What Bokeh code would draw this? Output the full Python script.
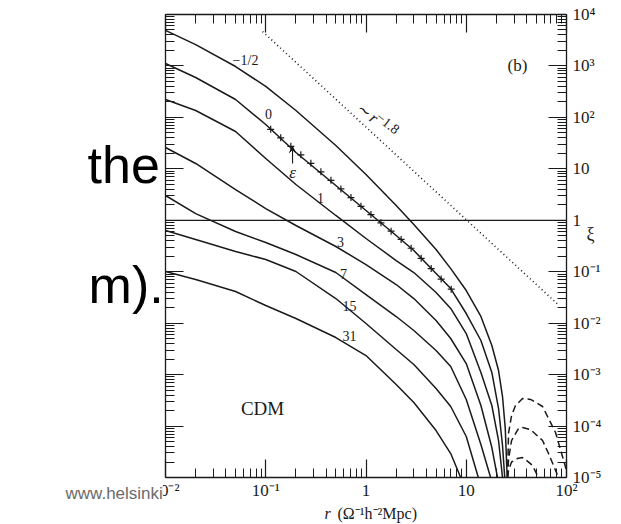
from bokeh.plotting import figure
from bokeh.models import (Range1d, LogAxis, LogScale, FixedTicker, CustomJSTickFormatter,
                          Label, Arrow, VeeHead)
from bokeh.embed import file_html
from bokeh.resources import INLINE

# ---------------- data ----------------
r_m05 = [0.01, 0.02, 0.05, 0.1, 0.2, 0.5, 1, 2, 3, 5, 7, 10, 14, 18, 21, 23, 24.5, 25.6]
xi_m05 = [4900, 2600, 975, 400, 136, 28.4, 7.76, 1.94, 0.827, 0.270, 0.115, 0.0431, 0.0135,
          0.00367, 0.0012, 3.75e-4, 8.95e-5, 1e-5]

r_0 = [0.01, 0.02, 0.05, 0.1, 0.2, 0.5, 1, 2, 3, 5, 7, 10, 14, 18, 21, 23, 24.2]
xi_0 = [1115, 596, 223, 72.7, 20.8, 4.74, 1.55, 0.506, 0.258, 0.0923, 0.0471, 0.0154, 0.0046,
        0.0011, 2.19e-4, 4.18e-5, 1e-5]

r_1 = [0.01, 0.02, 0.05, 0.1, 0.2, 0.5, 1, 2, 3, 5, 7, 10, 14, 18, 21, 23.0]
xi_1 = [223, 136, 53.2, 15.9, 4.96, 1.24, 0.442, 0.165, 0.0965, 0.0394, 0.0193, 0.00629, 0.0011,
        2.51e-4, 5.23e-5, 1e-5]

r_3 = [0.01, 0.02, 0.05, 0.1, 0.2, 0.5, 1, 2, 3, 5, 7, 10, 14, 18, 20.5]
xi_3 = [26.0, 12.7, 3.96, 1.69, 0.791, 0.309, 0.138, 0.0564, 0.0301, 0.01125, 0.00503, 0.00164,
        2.51e-4, 3.82e-5, 1e-5]

r_7 = [0.01, 0.02, 0.05, 0.1, 0.2, 0.5, 1, 2, 3, 5, 7, 10, 14, 17.5]
xi_7 = [3.03, 1.35, 0.605, 0.37, 0.216, 0.0965, 0.036, 0.01346, 0.00719, 0.00294, 0.001436,
        3.28e-4, 4.37e-5, 1e-5]

r_15 = [0.01, 0.02, 0.05, 0.1, 0.2, 0.5, 1, 2, 3, 5, 7, 10, 13.2]
xi_15 = [0.632, 0.423, 0.247, 0.173, 0.101, 0.0301, 0.00984, 0.00307, 0.00157, 5.36e-4, 2.40e-4,
         6.26e-5, 1e-5]

r_31 = [0.01, 0.02, 0.05, 0.1, 0.2, 0.5, 1, 2, 3, 5, 7, 8.8]
xi_31 = [0.101, 0.0705, 0.0412, 0.022, 0.0123, 0.00526, 0.00235, 6.41e-4, 2.86e-4, 8.18e-5,
         2.92e-5, 1e-5]

# negative part of xi (|xi|), dashed
r_neg_a = [25.8, 26.4, 28.3, 31.0, 36.4, 43.8, 57.7, 77.7, 91.2, 100]
xi_neg_a = [1e-5, 7.2e-5, 1.6e-4, 2.5e-4, 3.43e-4, 3.3e-4, 2.4e-4, 7.5e-5, 2.56e-5, 1.37e-5]
r_neg_b = [25.8, 26.4, 28.3, 33.2, 36.4, 43.8, 57.7, 66.2, 83.2]
xi_neg_b = [1e-5, 2.23e-5, 5.23e-5, 8.95e-5, 9.36e-5, 8.56e-5, 5.23e-5, 2.92e-5, 1e-5]
r_neg_c = [25.8, 26.4, 28.3, 32.4, 36.4, 39.0, 45.8, 52.6]
xi_neg_c = [1e-5, 1.37e-5, 2.0e-5, 2.34e-5, 2.44e-5, 2.23e-5, 1.71e-5, 1e-5]

# observed correlation function (epsilon points)
eps_r = [0.112, 0.141, 0.178, 0.224, 0.282, 0.355, 0.447, 0.562, 0.708, 0.891, 1.12, 1.41,
         1.78, 2.24, 2.82, 3.55, 4.47, 5.62, 7.08]
eps_xi = [58.6, 40.1, 27.4, 18.7, 12.8, 8.75, 5.98, 4.06, 2.76, 1.87, 1.29, 0.893, 0.615,
          0.425, 0.286, 0.182, 0.115, 0.0721, 0.0457]

# ~ r^-1.8 reference line
pl_r = [0.093, 83.0]
pl_xi = [4660, 0.0227]

curve_names = ["\u22121/2", "0", "1", "3", "7", "15", "31"]
x_ticks = [0.01, 0.1, 1, 10, 100]
y_ticks = [1e-5, 1e-4, 1e-3, 1e-2, 1e-1, 1, 10, 100, 1e3, 1e4]

SERIF = "Liberation Serif"
SANS = "Liberation Sans"
INK = "#1a1a1a"

X0, X1 = x_ticks[0], x_ticks[-1]
Y0, Y1 = y_ticks[0], y_ticks[-1]

# the plotting frame covers the whole page; the axes are pinned at the box edges
p = figure(width=621, height=524, x_axis_type="log", y_axis_type="log",
           x_axis_location=None, y_axis_location=None,
           x_range=Range1d(10 ** -3.6459, 10 ** 2.5486),
           y_range=Range1d(10 ** -5.9136, 10 ** 4.2721),
           output_backend="svg", toolbar_location=None,
           min_border=0, min_border_left=0, min_border_right=0,
           min_border_top=0, min_border_bottom=0)
p.x_scale = LogScale()
p.y_scale = LogScale()
p.grid.visible = False
p.outline_line_color = None
p.background_fill_color = "white"
p.border_fill_color = "white"

minor_x = [m * 10.0 ** e for e in range(-2, 2) for m in range(2, 10)]
minor_y = [m * 10.0 ** e for e in range(-5, 4) for m in range(2, 10)]

fmt_code = """
const e = Math.round(Math.log10(tick));
if (e == 0) return "1";
if (e == 1) return "10";
const sup = {"-": "\u207b", "0": "\u2070", "1": "\u00b9", "2": "\u00b2", "3": "\u00b3",
             "4": "\u2074", "5": "\u2075", "6": "\u2076", "7": "\u2077", "8": "\u2078", "9": "\u2079"};
return "10" + String(e).split("").map(c => sup[c]).join("");
"""

def make_axis(ticks, minors, show_labels, loc, bounds):
    ax = LogAxis(fixed_location=loc, bounds=bounds)
    ax.ticker = FixedTicker(ticks=ticks, minor_ticks=minors)
    ax.major_tick_in = 18
    ax.major_tick_out = 0
    ax.minor_tick_in = 9
    ax.minor_tick_out = 0
    ax.axis_line_color = INK
    ax.axis_line_width = 1.3
    ax.major_tick_line_color = INK
    ax.minor_tick_line_color = INK
    ax.major_tick_line_width = 1.2
    ax.minor_tick_line_width = 1.0
    if show_labels:
        ax.formatter = CustomJSTickFormatter(code=fmt_code)
        ax.major_label_text_font = SERIF
        ax.major_label_text_font_size = "17px"
        ax.major_label_text_color = INK
    else:
        ax.formatter = CustomJSTickFormatter(code="return '';")
    return ax

bottom = make_axis(x_ticks, minor_x, True, Y0, (X0, X1))
bottom.major_label_standoff = 3
p.add_layout(bottom, "below")
top = make_axis(x_ticks, minor_x, False, Y1, (X0, X1))
p.add_layout(top, "above")
left = make_axis(y_ticks, minor_y, False, X0, (Y0, Y1))
p.add_layout(left, "left")
right = make_axis(y_ticks, minor_y, True, X1, (Y0, Y1))
right.major_label_standoff = 6
p.add_layout(right, "right")

# xi = 1 line
p.line([X0, X1], [1, 1], line_color=INK, line_width=1.3)

# model curves
for rr, xx in [(r_m05, xi_m05), (r_0, xi_0), (r_1, xi_1), (r_3, xi_3),
               (r_7, xi_7), (r_15, xi_15), (r_31, xi_31)]:
    p.line(rr, xx, line_color=INK, line_width=1.5)

for rr, xx in [(r_neg_a, xi_neg_a), (r_neg_b, xi_neg_b), (r_neg_c, xi_neg_c)]:
    p.line(rr, xx, line_color=INK, line_width=1.5, line_dash="7 4")

p.line(pl_r, pl_xi, line_color=INK, line_width=1.6, line_dash="1 3")

p.scatter(eps_r, eps_xi, marker="cross", size=7, line_color=INK, line_width=1.2)

def lab(x, y, text, size, font=SERIF, style="normal", align="center", baseline="middle",
        angle=0, color=INK, bg=None):
    l = Label(x=x, y=y, text=text, text_font=font, text_font_size=size, text_font_style=style,
              text_align=align, text_baseline=baseline, angle=angle, text_color=color)
    if bg is not None:
        l.background_fill_color = bg
    p.add_layout(l)

# curve labels
lab(0.0628, 1276, curve_names[0], "14px")
lab(0.1064, 119, curve_names[1], "14px")
lab(0.3516, 2.77, curve_names[2], "14px")
lab(0.557, 0.386, curve_names[3], "14px")
lab(0.597, 0.0923, curve_names[4], "14px")
lab(0.684, 0.0220, curve_names[5], "14px")
lab(0.684, 0.00575, curve_names[6], "14px")

# epsilon and arrow
lab(0.185, 8.48, "\u03b5", "17px", style="italic")
p.add_layout(Arrow(end=VeeHead(size=6, line_color=INK, fill_color=INK, line_width=1),
                   x_start=0.185, y_start=12.7, x_end=0.185, y_end=27.2,
                   line_color=INK, line_width=1.1))

# power-law label
lab(1.03, 124.0, "\u223c r", "16px", style="italic", angle=-0.663)
lab(1.66, 78.0, "\u22121.8", "14px", angle=-0.663)

lab(32.4, 1020, "(b)", "17px")
lab(0.0929, 2.19e-4, "CDM", "19px")
lab(173.5, 0.553, "\u03be", "18px")

# x axis title
lab(0.385, 2.0e-6, "r", "16px", style="italic", align="left")
lab(0.52, 2.0e-6, "(\u03a9\u207b\u00b9h\u207b\u00b2Mpc)", "16px", align="left")

# slide text behind the figure
lab(0.00167, 12.1, "the", "52px", font=SANS, align="left", baseline="alphabetic", color="black")
lab(0.00171, 0.0564, "m).", "52px", font=SANS, align="left", baseline="alphabetic", color="black")
lab(0.001006, 4.89e-6, "www.helsinki", "17px", font=SANS, align="left", color="#6b6b6b",
    bg="white")

open("out.html", "w").write(file_html(p, INLINE))
